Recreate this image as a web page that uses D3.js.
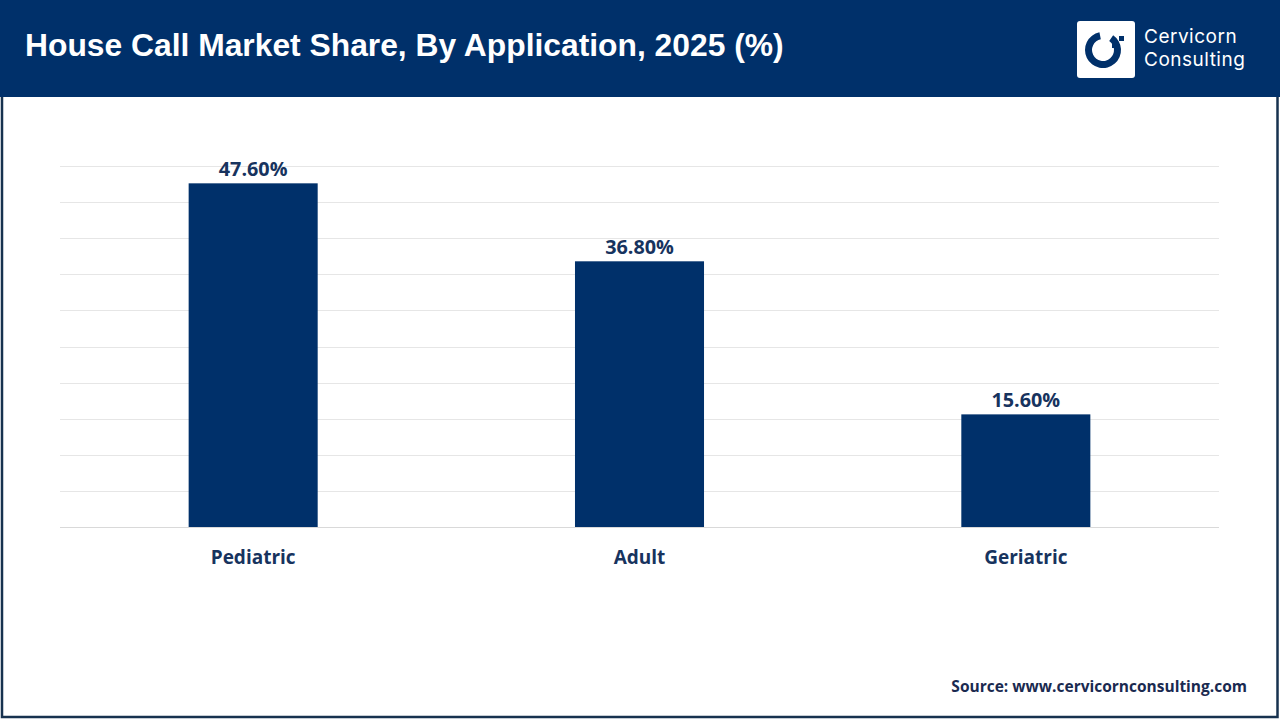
<!DOCTYPE html>
<html>
<head>
<meta charset="utf-8">
<script src="https://cdn.jsdelivr.net/npm/d3@7"></script>
<style>
  body { margin: 0; background: #fff; }
  svg { display: block; }
</style>
</head>
<body>
<div id="chart"></div>
<script>
var categories = ["Pediatric", "Adult", "Geriatric"];
var values = [47.6, 36.8, 15.6];
var gridTicks = [0, 5, 10, 15, 20, 25, 30, 35, 40, 45, 50];

var W = 1280, H = 720;
var navy = "#00306a";
var margin = {top: 166, right: 61, bottom: 193, left: 60},
    width = W - margin.left - margin.right,
    height = H - margin.top - margin.bottom;

var svg = d3.select("#chart").append("svg")
    .attr("width", W)
    .attr("height", H);

// frame + header
svg.append("rect").attr("x", 0).attr("y", 0).attr("width", W).attr("height", H).attr("fill", "#fff");
svg.append("rect").attr("x", 2).attr("y", 2).attr("width", W - 4.5).attr("height", H - 5)
    .attr("fill", "none").attr("stroke", "#17324f").attr("stroke-width", 2.5);
svg.append("rect").attr("x", 0).attr("y", 0).attr("width", W).attr("height", 97).attr("fill", navy);

svg.append("text")
    .attr("x", 25).attr("y", 56)
    .attr("fill", "#fff")
    .attr("font-family", "Liberation Sans, Arial, sans-serif")
    .attr("font-weight", "bold")
    .attr("font-size", "31.8px")
    .text("House Call Market Share, By Application, 2025 (%)");

// logo
var logo = svg.append("g");
logo.append("rect").attr("x", 1077).attr("y", 21).attr("width", 58).attr("height", 57).attr("rx", 3).attr("fill", "#fff");
var arc = d3.arc().innerRadius(11).outerRadius(18).startAngle(0.6).endAngle(2 * Math.PI - 0.2);
logo.append("path").attr("d", arc()).attr("transform", "translate(1103,50)").attr("fill", navy);
logo.append("rect").attr("x", 1119).attr("y", 36).attr("width", 5).attr("height", 5).attr("fill", navy);
logo.append("rect").attr("x", 1112).attr("y", 42).attr("width", 6).attr("height", 6).attr("fill", navy);
logo.append("text").attr("x", 1144).attr("y", 43).attr("fill", "#fff")
    .attr("font-family", "Inter, Roboto, sans-serif").attr("font-size", "19px")
    .attr("letter-spacing", "0.5px").text("Cervicorn");
logo.append("text").attr("x", 1144).attr("y", 66).attr("fill", "#fff")
    .attr("font-family", "Inter, Roboto, sans-serif").attr("font-size", "19px")
    .attr("letter-spacing", "0.5px").text("Consulting");

var g = svg.append("g")
    .attr("transform", "translate(" + margin.left + "," + margin.top + ")");

var x = d3.scaleBand().domain(categories).range([0, width]).paddingInner(0.666).paddingOuter(0.333);
var y = d3.scaleLinear().domain([0, 50]).range([height, 0]);

// gridlines
g.selectAll(".grid").data(gridTicks).enter()
  .append("line")
    .attr("x1", 0).attr("x2", width)
    .attr("y1", function(d) { return Math.round(y(d)) + 0.5; })
    .attr("y2", function(d) { return Math.round(y(d)) + 0.5; })
    .attr("stroke", function(d) { return d === 0 ? "#d9d9d9" : "#e6e6e6"; })
    .attr("stroke-width", 1);

// bars
g.selectAll(".bar").data(values).enter()
  .append("rect")
    .attr("x", function(d, i) { return x(categories[i]); })
    .attr("y", function(d) { return y(d); })
    .attr("width", x.bandwidth())
    .attr("height", function(d) { return height - y(d); })
    .attr("fill", navy);

// value labels
g.selectAll(".val").data(values).enter()
  .append("text")
    .attr("x", function(d, i) { return x(categories[i]) + x.bandwidth() / 2; })
    .attr("y", function(d) { return y(d) - 7; })
    .attr("text-anchor", "middle")
    .attr("fill", "#17335e")
    .attr("font-family", "Open Sans, sans-serif")
    .attr("font-weight", "bold")
    .attr("font-size", "19.8px")
    .text(function(d) { return d.toFixed(2) + "%"; });

// category axis
var xAxis = d3.axisBottom(x).tickSize(0).tickPadding(24);
var ax = g.append("g").attr("transform", "translate(0," + height + ")").call(xAxis);
ax.select(".domain").remove();
ax.selectAll("text")
    .attr("fill", "#17335e")
    .attr("font-family", "Open Sans, sans-serif")
    .attr("font-weight", "bold")
    .attr("font-size", "19px");

svg.append("text")
    .attr("x", 1247).attr("y", 692)
    .attr("text-anchor", "end")
    .attr("fill", "#1a2a50")
    .attr("font-family", "Open Sans, sans-serif")
    .attr("font-weight", "bold")
    .attr("font-size", "15.5px")
    .text("Source: www.cervicornconsulting.com");
</script>
</body>
</html>
